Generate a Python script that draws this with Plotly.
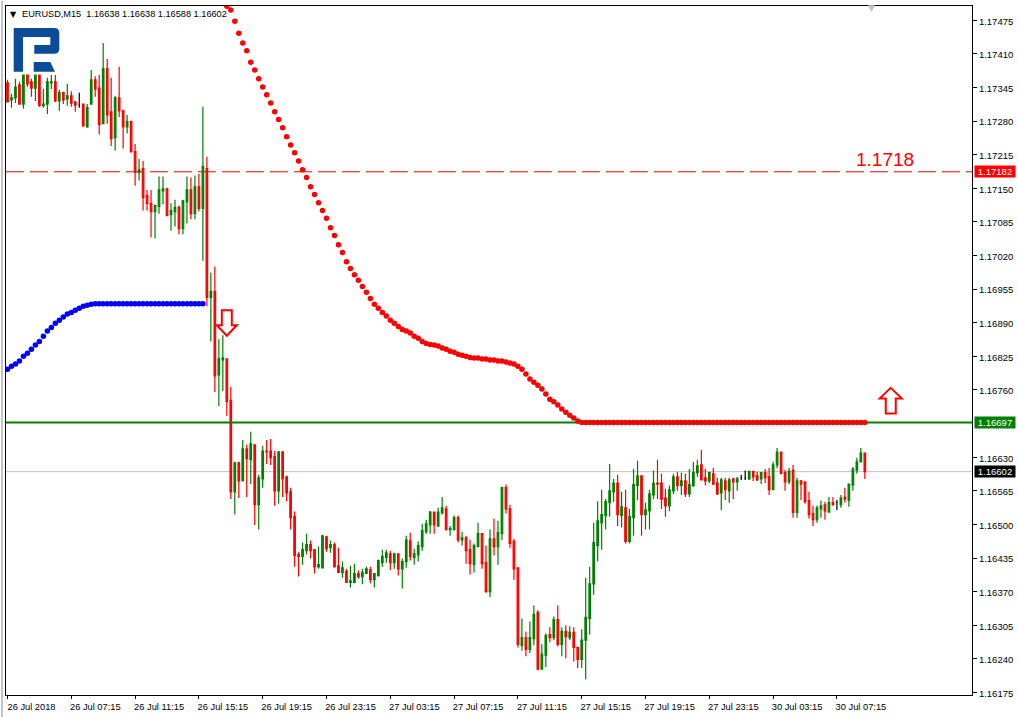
import plotly.graph_objects as go

# Prices in 1e-5 units, one entry per 15-minute bar
open_pts = [117354,117321,117325,117350,117313,117369,117356,117344,117369,117310,117313,117354,117356,117319,117335,117323,117329,117317,117311,117313,
117269,117313,117360,117344,117275,117381,117298,117248,117325,117300,117269,117279,117221,117181,117188,117136,117121,117105,117115,117145,
117149,117099,117105,117113,117072,117124,117147,117101,117153,117111,117188,116939,116951,116789,116818,116820,116740,116563,116619,116584,
116646,116625,116654,116538,116588,116642,116642,116631,116565,116640,116592,116563,116515,116442,116438,116449,116461,116451,116418,116416,
116476,116455,116461,116420,116407,116409,116388,116388,116405,116399,116405,116412,116393,116401,116426,116436,116443,116426,116443,116414,
116428,116468,116436,116441,116457,116486,116499,116524,116497,116522,116530,116490,116490,116513,116470,116474,116451,116422,116457,116482,
116426,116370,116472,116457,116482,116571,116530,116467,116416,116266,116281,116258,116279,116330,116220,116247,116287,116281,116316,116268,
116293,116281,116291,116262,116239,116276,116318,116385,116459,116503,116517,116542,116563,116580,116517,116532,116467,116513,116575,116594,
116519,116526,116557,116580,116580,116551,116536,116565,116592,116575,116584,116559,116575,116600,116615,116590,116584,116598,116580,116561,
116584,116565,116588,116582,116590,116590,116588,116602,116594,116588,116600,116592,116567,116615,116640,116600,116582,116605,116523,116584,
116582,116546,116521,116509,116530,116538,116524,116542,116542,116538,116553,116547,116576,116605,116621,116638]
high_pts = [117360,117333,117362,117356,117369,117369,117362,117369,117369,117342,117364,117369,117369,117340,117337,117352,117338,117319,117335,117313,
117313,117379,117367,117369,117431,117400,117364,117329,117385,117302,117292,117281,117236,117207,117203,117147,117147,117117,117173,117173,
117151,117121,117128,117117,117128,117173,117171,117175,117178,117308,117211,116987,116999,116858,116866,116820,116766,116621,116621,116663,
116654,116679,116654,116596,116652,116663,116665,116642,116642,116642,116594,116571,116525,116446,116465,116482,116469,116451,116457,116480,
116478,116469,116465,116455,116428,116414,116420,116424,116411,116414,116418,116418,116405,116432,116451,116451,116449,116445,116443,116434,
116478,116484,116453,116467,116501,116509,116526,116524,116532,116553,116536,116497,116517,116517,116486,116478,116470,116463,116503,116482,
116459,116490,116511,116507,116573,116577,116538,116472,116416,116318,116293,116312,116343,116334,116268,116289,116301,116322,116343,116301,
116305,116303,116301,116262,116297,116397,116418,116503,116545,116567,116549,116617,116588,116596,116563,116567,116530,116607,116623,116594,
116542,116567,116604,116625,116598,116569,116575,116598,116602,116600,116598,116607,116621,116625,116644,116607,116602,116609,116590,116590,
116590,116590,116590,116592,116596,116604,116604,116604,116602,116600,116607,116609,116621,116648,116640,116605,116609,116615,116590,116586,
116584,116563,116536,116536,116546,116544,116553,116553,116547,116557,116571,116578,116611,116629,116648,116638]
low_pts = [117317,117306,117315,117313,117304,117346,117327,117319,117308,117306,117294,117342,117317,117300,117313,117310,117308,117298,117306,117269,
117267,117313,117327,117254,117275,117275,117232,117223,117288,117227,117256,117219,117155,117165,117107,117107,117055,117053,117101,117119,
117097,117068,117076,117061,117061,117082,117090,117090,117105,117010,116922,116854,116756,116729,116758,116710,116549,116519,116551,116584,
116553,116578,116499,116490,116571,116617,116615,116536,116540,116553,116545,116490,116418,116399,116422,116442,116434,116405,116414,116416,
116447,116445,116418,116407,116397,116388,116378,116386,116395,116384,116405,116386,116378,116399,116418,116426,116412,116414,116401,116376,
116416,116430,116422,116428,116449,116482,116482,116482,116495,116519,116488,116478,116488,116465,116459,116424,116403,116407,116457,116414,
116368,116359,116440,116422,116470,116521,116455,116393,116262,116256,116245,116251,116266,116218,116220,116224,116272,116276,116264,116245,
116241,116276,116235,116222,116222,116200,116287,116364,116428,116451,116490,116515,116544,116497,116494,116463,116463,116478,116547,116478,
116490,116490,116549,116549,116530,116515,116526,116559,116565,116557,116553,116553,116573,116592,116586,116575,116580,116576,116557,116528,
116547,116542,116549,116565,116586,116586,116586,116584,116584,116578,116580,116557,116567,116609,116598,116565,116578,116513,116513,116547,
116540,116511,116497,116503,116513,116509,116522,116536,116528,116532,116542,116534,116565,116598,116621,116588]
close_pts = [117317,117325,117346,117313,117369,117352,117344,117369,117310,117313,117356,117356,117319,117335,117321,117329,117315,117311,117311,117271,
117306,117360,117342,117273,117381,117292,117246,117325,117300,117269,117279,117221,117181,117186,117132,117121,117105,117117,117147,117149,
117097,117107,117113,117072,117126,117147,117101,117153,117111,117192,116939,116951,116787,116820,116822,116738,116563,116619,116584,116646,
116627,116656,116538,116590,116642,116640,116629,116565,116640,116588,116561,116513,116440,116438,116451,116461,116449,116418,116422,116478,
116453,116461,116418,116407,116416,116388,116391,116405,116399,116407,116414,116393,116405,116430,116438,116445,116426,116443,116414,116428,
116470,116438,116443,116459,116488,116501,116524,116499,116524,116532,116490,116492,116513,116470,116474,116449,116424,116459,116482,116424,
116370,116472,116457,116484,116571,116530,116463,116414,116268,116281,116258,116281,116326,116220,116249,116285,116281,116316,116268,116293,
116283,116291,116262,116239,116276,116320,116385,116465,116507,116519,116544,116565,116580,116519,116534,116467,116515,116577,116594,116519,
116528,116559,116580,116578,116549,116536,116567,116592,116575,116584,116559,116577,116600,116613,116586,116584,116600,116578,116559,116586,
116567,116586,116582,116588,116590,116590,116602,116592,116586,116600,116590,116567,116615,116640,116598,116582,116603,116523,116584,116578,
116544,116519,116509,116532,116536,116526,116542,116538,116542,116551,116549,116578,116607,116621,116638,116602]

# Blue dots: bars 0..49; red dots: bars 55..215
blue_dots = [116800,116806,116810,116816,116825,116831,116839,116847,116854,116864,116874,116881,116889,116895,116901,116907,116910,116914,116918,116922,
116924,116926] + [116927] * 28
red_dots = [117502,117495,117473,117450,117431,117416,117394,117379,117362,117346,117331,117315,117298,117283,117267,117250,117234,117219,117203,117186,
117171,117153,117138,117122,117107,117092,117074,117059,117041,117026,117008,116995,116983,116972,116960,116949,116937,116926,116918,116910,
116903,116895,116889,116883,116877,116874,116870,116864,116860,116854,116850,116848,116847,116845,116841,116839,116835,116833,116829,116827,
116825,116823,116822,116822,116820,116820,116818,116818,116816,116816,116814,116812,116810,116806,116800,116791,116781,116775,116769,116762,
116752,116742,116737,116731,116723,116717,116711,116706,116700] + [116697] * 72

y_ticks = [1.17475,1.17410,1.17345,1.17280,1.17215,1.17150,1.17085,1.17020,1.16955,1.16890,1.16825,1.16760,
           1.16630,1.16565,1.16500,1.16435,1.16370,1.16305,1.16240,1.16175]
x_labels = ["26 Jul 2018","26 Jul 07:15","26 Jul 11:15","26 Jul 15:15","26 Jul 19:15","26 Jul 23:15","27 Jul 03:15",
            "27 Jul 07:15","27 Jul 11:15","27 Jul 15:15","27 Jul 19:15","27 Jul 23:15","30 Jul 03:15","30 Jul 07:15"]
level_red = 1.17182
level_green = 1.16697
last_price = 1.16602
arrow_down = (55, 1.16865)
arrow_up = (221.5, 1.16764)

GREEN = "#008000"
RED = "#ff0000"
FONT = "Liberation Sans"

n = len(open_pts)
idx = list(range(n))
scale = lambda a: [v / 1e5 for v in a]
o, h, l, c = scale(open_pts), scale(high_pts), scale(low_pts), scale(close_pts)
dojis = [i for i in idx if open_pts[i] == close_pts[i]]
rest = [i for i in idx if open_pts[i] != close_pts[i]]
pick = lambda a, s: [a[i] for i in s]

fig = go.Figure()
fig.add_trace(go.Scatter(x=[-0.375, 241.875], y=[level_green] * 2, mode="lines",
                         line=dict(color=GREEN, width=2), hoverinfo="skip", showlegend=False))
fig.add_trace(go.Candlestick(
    x=rest, open=pick(o, rest), high=pick(h, rest), low=pick(l, rest), close=pick(c, rest),
    increasing=dict(line=dict(color=GREEN, width=1.2), fillcolor=GREEN),
    decreasing=dict(line=dict(color=RED, width=1.2), fillcolor=RED),
    whiskerwidth=0, showlegend=False, hoverinfo="skip"))
fig.add_trace(go.Candlestick(
    x=dojis, open=pick(o, dojis), high=pick(h, dojis), low=pick(l, dojis), close=pick(c, dojis),
    increasing=dict(line=dict(color="#000000", width=1.2), fillcolor="#000000"),
    decreasing=dict(line=dict(color="#000000", width=1.2), fillcolor="#000000"),
    whiskerwidth=0, showlegend=False, hoverinfo="skip"))
fig.add_trace(go.Scatter(x=idx[:len(blue_dots)], y=scale(blue_dots), mode="markers",
                         marker=dict(color="#0000ff", size=5.5), hoverinfo="skip", showlegend=False))
red_x = idx[55:55 + len(red_dots)]
fig.add_trace(go.Scatter(x=red_x, y=scale(red_dots), mode="markers",
                         marker=dict(color=RED, size=5.5), hoverinfo="skip", showlegend=False))
# The green level shows through the flat run of red dots as short dashes
fig.add_trace(go.Scatter(x=[144, 215], y=[level_green] * 2, mode="lines",
                         line=dict(color="#7a3a00", width=1, dash="2px,2px"), hoverinfo="skip", showlegend=False))

shapes = [
    dict(type="line", layer="below", xref="paper", x0=0, x1=1, yref="y", y0=last_price, y1=last_price,
         line=dict(color="#c0c0c0", width=1)),
    dict(type="line", layer="below", xref="paper", x0=0, x1=1, yref="y", y0=level_red, y1=level_red,
         line=dict(color=RED, width=1, dash="18px,6px")),
]
down_path = "M0,0 L10,10.5 L5,10.5 L5,25.5 L-5,25.5 L-5,10.5 L-10,10.5 Z"
up_path = "M0,0 L11,-10.5 L5,-10.5 L5,-25.5 L-5,-25.5 L-5,-10.5 L-11,-10.5 Z"
for (ax, ay), path in ((arrow_down, down_path), (arrow_up, up_path)):
    shapes.append(dict(type="path", xref="x", yref="y", xsizemode="pixel", ysizemode="pixel",
                       xanchor=ax, yanchor=ay, path=path, fillcolor="#ffffff",
                       line=dict(color=RED, width=2)))
logo_a = "M7.7,-22 L48,-22 Q53.3,-22 53.3,-27 L53.3,-43 Q53.3,-47.7 48,-47.7 L28.3,-47.7 L28.3,-39 L44.3,-39 L44.3,-31 L17,-31 L17,-65.7 L7.7,-65.7 Z"
logo_b = "M27.7,-56 L44.3,-56 L49,-65.7 L27.7,-65.7 Z"
for path in (logo_a, logo_b):
    shapes.append(dict(type="path", xref="paper", yref="paper", xsizemode="pixel", ysizemode="pixel",
                       xanchor=0, yanchor=1, path=path, fillcolor="#0a4c97", line=dict(width=0)))
# Window border strip outside the plot frame
shapes.append(dict(type="path", xref="paper", yref="paper", xsizemode="pixel", ysizemode="pixel",
                   xanchor=0, yanchor=1, path="M-5,5 L-3,5 L-3,-712 L-5,-712 Z", fillcolor="#c4c4c4", line=dict(width=0)))

annotations = [
    dict(xref="paper", yref="paper", x=0, y=1, xanchor="left", yanchor="middle", yshift=-8, xshift=14,
         text="EURUSD,M15  1.16638 1.16638 1.16588 1.16602", showarrow=False,
         font=dict(family=FONT, size=9.2, color="#000000")),
    dict(xref="paper", yref="paper", x=0, y=1, xanchor="left", yanchor="middle", yshift=-8, xshift=2,
         text="▼", showarrow=False, font=dict(family="DejaVu Sans", size=8, color="#000000")),
    dict(xref="paper", yref="paper", x=0.8955, y=1, xanchor="center", yanchor="middle", yshift=-2,
         text="▼", showarrow=False, font=dict(family="DejaVu Sans", size=9, color="#c0c0c0")),
    dict(xref="x", yref="y", x=220.1, y=level_red, yshift=12, xanchor="center", yanchor="middle",
         text="1.1718", showarrow=False, font=dict(family=FONT, size=19, color=RED)),
]
for val, col in ((level_red, RED), (level_green, GREEN), (last_price, "#000000")):
    annotations.append(dict(xref="paper", yref="y", x=1, y=val, xshift=2, xanchor="left", yanchor="middle",
                            text=f"{val:.5f}", showarrow=False, bgcolor=col, width=40, height=11, align="center",
                            borderpad=0, font=dict(family=FONT, size=9.5, color="#ffffff")))

fig.update_layout(
    width=1018, height=717, autosize=False,
    margin=dict(l=5, r=44, t=5, b=20, pad=0),
    paper_bgcolor="#ffffff", plot_bgcolor="#ffffff",
    showlegend=False, boxgap=0.45, boxmode="overlay",
    shapes=shapes, annotations=annotations,
    xaxis=dict(range=[-0.375, 241.875], rangeslider=dict(visible=False), showgrid=False, zeroline=False,
               tickmode="array", tickvals=[i * 16 for i in range(len(x_labels))], ticktext=x_labels,
               ticks="outside", ticklen=3, tickcolor="#000000", tickwidth=1, ticklabelshift=24,
               tickfont=dict(family=FONT, size=9.3, color="#000000"),
               showline=True, mirror=True, linecolor="#000000", linewidth=1),
    yaxis=dict(range=[1.16170, 1.175027], side="right", showgrid=False, zeroline=False,
               tickmode="array", tickvals=y_ticks, ticktext=[f"{v:.5f}" for v in y_ticks],
               ticks="outside", ticklen=4, tickcolor="#000000", tickwidth=1, ticklabelshift=1,
               tickfont=dict(family=FONT, size=9.5, color="#000000"),
               showline=True, mirror=True, linecolor="#000000", linewidth=1),
)
fig.write_html("out.html", config={"displayModeBar": False},
               post_script="document.body.style.margin='0';document.body.style.overflow='hidden';")
